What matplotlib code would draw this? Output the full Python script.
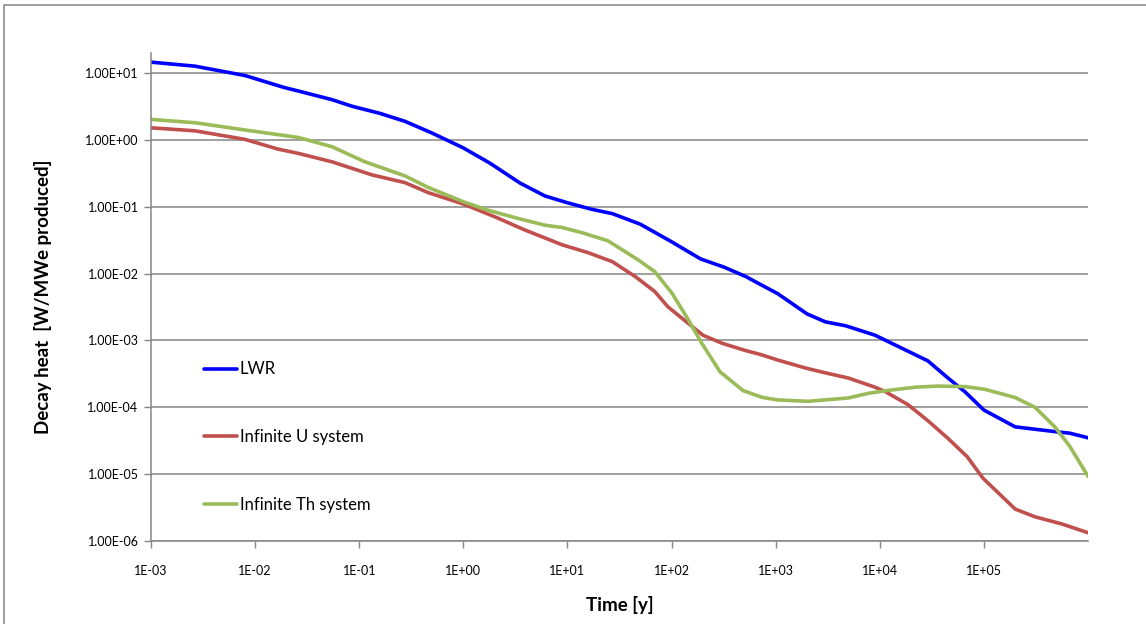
import matplotlib
matplotlib.use("Agg")
import matplotlib.pyplot as plt
from matplotlib.patches import Rectangle

plt.rcParams['font.family'] = ['Lato', 'DejaVu Sans']

# LWR
t_lwr = [1e-3, 2.65e-3, 8e-3, 1.9e-2, 2.6e-2, 5.5e-2, 8.5e-2, 0.158, 0.275, 0.5, 1.0, 1.8, 3.5, 6.1,
         10, 17, 27, 50, 70, 100, 190, 320, 520, 700, 1050, 2000, 3000, 4700, 9000,
         2.9e4, 4.5e4, 6.6e4, 1e5, 2e5, 5e5, 6.7e5, 1e6]
q_lwr = [14.6, 12.7, 9.2, 6.1, 5.4, 4.0, 3.2, 2.5, 1.9, 1.27, 0.76, 0.45, 0.227, 0.145,
         0.115, 0.092, 0.079, 0.055, 0.041, 0.030, 0.0166, 0.0125, 0.009, 0.007, 0.005, 0.0025, 0.0019, 0.00166, 0.0012,
         4.95e-4, 2.76e-4, 1.7e-4, 9.1e-5, 5.1e-5, 4.3e-5, 4.1e-5, 3.5e-5]

# Infinite U system
t_u = [1e-3, 2.65e-3, 8e-3, 1.66e-2, 2.6e-2, 5.5e-2, 0.133, 0.275, 0.46, 1.0, 2.0, 3.9, 8.9, 15.8,
       27, 45, 69, 92, 145, 200, 305, 508, 708, 1047, 1900, 2950, 5000, 9000,
       1.12e4, 1.86e4, 2.9e4, 4.5e4, 6.9e4, 9.8e4, 2e5, 3.1e5, 5.6e5, 1e6]
q_u = [1.52, 1.37, 1.02, 0.73, 0.63, 0.47, 0.30, 0.23, 0.163, 0.110, 0.071, 0.045, 0.027, 0.0206,
       0.0151, 0.009, 0.0054, 0.0032, 0.0018, 0.0012, 9.1e-4, 7.1e-4, 6.2e-4, 5.1e-4, 3.9e-4, 3.3e-4, 2.74e-4, 2.0e-4,
       1.73e-4, 1.1e-4, 6.3e-5, 3.45e-5, 1.83e-5, 8.7e-6, 3.0e-6, 2.3e-6, 1.8e-6, 1.33e-6]

# Infinite Th system
t_th = [1e-3, 2.65e-3, 8e-3, 2.6e-2, 5.5e-2, 0.114, 0.275, 0.46, 1.0, 1.7, 3.35, 6.1, 8.9, 13.8,
        24.5, 48, 69, 101, 145, 195, 292, 486, 741, 1047, 2040, 2950, 5000, 7760,
        1.2e4, 2.2e4, 3.6e4, 6.6e4, 1.02e5, 2e5, 3.1e5, 4.8e5, 6.7e5, 1e6]
q_th = [2.03, 1.81, 1.41, 1.09, 0.79, 0.47, 0.29, 0.195, 0.119, 0.0895, 0.067, 0.053, 0.049, 0.041,
        0.031, 0.016, 0.0107, 0.0051, 0.00204, 9.1e-4, 3.4e-4, 1.78e-4, 1.41e-4, 1.29e-4, 1.23e-4, 1.29e-4, 1.38e-4, 1.62e-4,
        1.79e-4, 2.0e-4, 2.08e-4, 2.04e-4, 1.86e-4, 1.4e-4, 1.0e-4, 5.1e-5, 2.6e-5, 9.3e-6]

xticks = [1e-3, 1e-2, 1e-1, 1e0, 1e1, 1e2, 1e3, 1e4, 1e5]
xticklabels = ["1E-03", "1E-02", "1E-01", "1E+00", "1E+01", "1E+02", "1E+03", "1E+04", "1E+05"]
yticks = [1e-6, 1e-5, 1e-4, 1e-3, 1e-2, 1e-1, 1e0, 1e1]
yticklabels = ["1.00E-06", "1.00E-05", "1.00E-04", "1.00E-03", "1.00E-02", "1.00E-01", "1.00E+00", "1.00E+01"]

fig = plt.figure(figsize=(11.46, 6.24), dpi=100)
ax = fig.add_axes([151/1146, 1 - 541/624, (1088 - 151)/1146, (541 - 53)/624])

grey = "#868686"
ax.plot(t_lwr, q_lwr, color="#0000FF", lw=2.6, label="LWR", solid_capstyle="round")
ax.plot(t_u, q_u, color="#C0504D", lw=2.6, label="Infinite U system", solid_capstyle="round")
ax.plot(t_th, q_th, color="#9BBB59", lw=2.6, label="Infinite Th system", solid_capstyle="round")

ax.set_xscale("log")
ax.set_yscale("log")
ax.set_xlim(1e-3, 1e6)
ax.set_ylim(1e-6, 20)
ax.set_xticks(xticks)
ax.set_xticklabels(xticklabels)
ax.set_yticks(yticks)
ax.set_yticklabels(yticklabels)
ax.minorticks_off()
ax.tick_params(axis="both", labelsize=9, color=grey, length=5, width=1, direction="out")
ax.tick_params(axis="x", pad=12)
ax.tick_params(axis="y", pad=4)
ax.grid(axis="y", color=grey, lw=1.1)
ax.set_axisbelow(True)
for s in ["top", "right"]:
    ax.spines[s].set_visible(False)
for s in ["left", "bottom"]:
    ax.spines[s].set_color(grey)
    ax.spines[s].set_linewidth(1.1)

ax.set_xlabel("Time [y]", fontsize=13.5, fontweight="bold", labelpad=14)
ax.set_ylabel("Decay heat  [W/MWe produced]", fontsize=13.5, fontweight="bold", labelpad=24)

fig.legend(loc="center left", bbox_to_anchor=(204/1146, 1 - 437/624), frameon=False,
           fontsize=12, handlelength=2.0, handletextpad=0.15, labelspacing=3.1,
           borderpad=0, borderaxespad=0)

fig.patches.append(Rectangle((4/1146, -0.1), 1.2, 1.1 - 5/624, transform=fig.transFigure,
                             fill=False, edgecolor="#8c8c8c", lw=1.2))

fig.savefig("out.png", dpi=100)
